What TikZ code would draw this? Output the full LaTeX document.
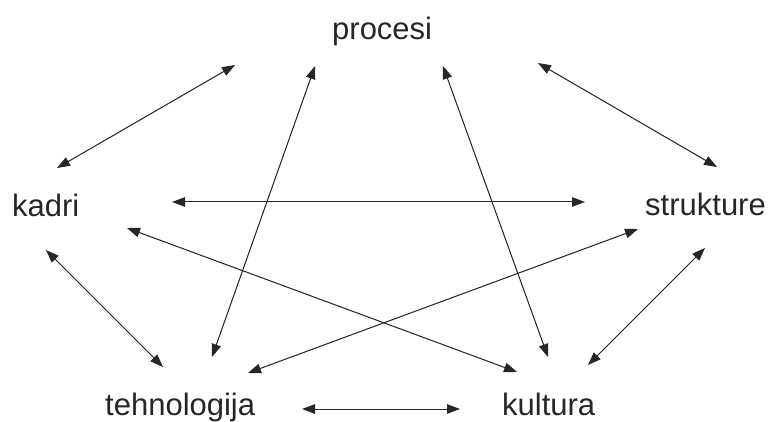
\documentclass[tikz,border=0pt]{standalone}
\usepackage{fontspec}
\setmainfont{Liberation Sans}
\usetikzlibrary{arrows.meta}

\begin{document}
\begin{tikzpicture}[x=1pt,y=-1pt,
  lbl/.style={inner sep=0pt,anchor=base west,text=black!85,font=\fontsize{31}{36}\selectfont},
  link/.style={{Triangle[length=13pt,width=9.5pt]}-{Triangle[length=13pt,width=9.5pt]},line width=1pt,draw=black!85,fill=black!85}]
\useasboundingbox (0,0) rectangle (769,422);
% labels
\node [lbl] (procesi) at (332,40) {procesi};
\node [lbl] (kadri) at (12,217) {kadri};
\node [lbl] (strukture) at (645,216) {strukture};
\node [lbl] (tehnologija) at (105,415) {tehnologija};
\node [lbl] (kultura) at (502,415) {kultura};
% arrow ends
\coordinate (kp1) at (57,168);  \coordinate (kp2) at (235,65);
\coordinate (ps1) at (538,63);  \coordinate (ps2) at (717,167);
\coordinate (ks1) at (172,202); \coordinate (ks2) at (585,202);
\coordinate (pt1) at (315,66);  \coordinate (pt2) at (212,357);
\coordinate (pk1) at (443,66);  \coordinate (pk2) at (548,357);
\coordinate (kk1) at (127,228); \coordinate (kk2) at (517,372);
\coordinate (st1) at (638,229); \coordinate (st2) at (248,373);
\coordinate (kt1) at (46,250);  \coordinate (kt2) at (163,367);
\coordinate (sk1) at (705,248); \coordinate (sk2) at (588,365);
\coordinate (tk1) at (302,409); \coordinate (tk2) at (460,409);
% connectors
\foreach \a in {kp,ps,ks,pt,pk,kk,st,kt,sk,tk}
  \draw [link] (\a1) -- (\a2);
\end{tikzpicture}
\end{document}
